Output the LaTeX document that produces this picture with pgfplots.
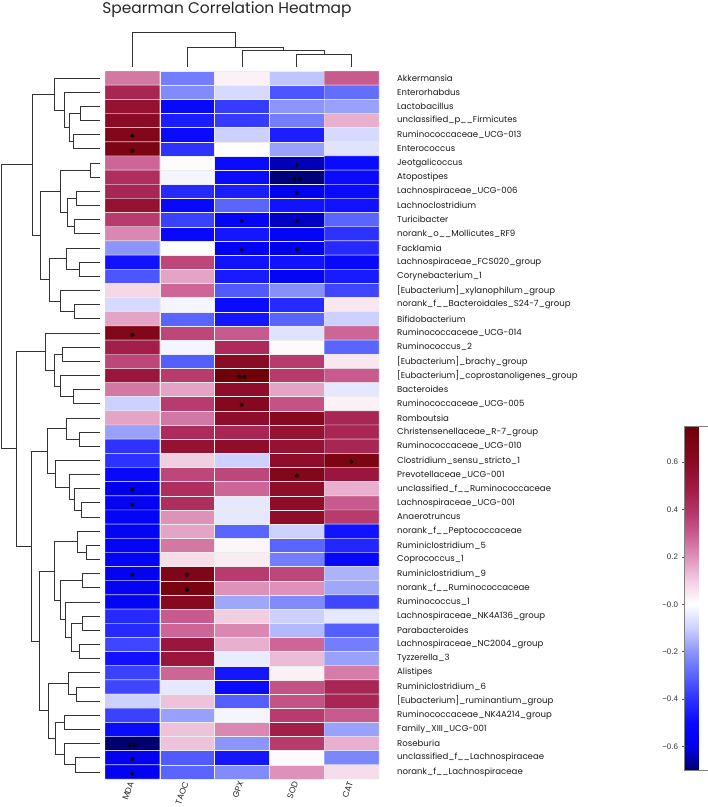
\documentclass[border=0pt]{standalone}
\usepackage{fontspec}
\setmainfont{Poppins}
\newfontfamily\arialf{Liberation Sans}
\newfontfamily\dejavu{DejaVu Sans}
\usepackage{pgfplots}
\pgfplotsset{compat=1.18}

\pgfplotsset{colormap={corr}{
 rgb255(0pt)=(0,0,110);
 rgb255(10pt)=(0,0,235);
 rgb255(20pt)=(10,10,255);
 rgb255(30pt)=(45,50,255);
 rgb255(40pt)=(90,100,255);
 rgb255(50pt)=(140,150,250);
 rgb255(60pt)=(205,210,255);
 rgb255(70pt)=(255,255,255);
 rgb255(80pt)=(242,205,225);
 rgb255(90pt)=(222,145,185);
 rgb255(100pt)=(200,90,140);
 rgb255(110pt)=(178,50,100);
 rgb255(120pt)=(158,25,65);
 rgb255(130pt)=(138,10,35);
 rgb255(145pt)=(110,0,5)
}}

\newcommand{\sa}{{\dejavu ✱}}
% left dendrogram link: child A (height, row), node height, child B (height, row)
\newcommand{\U}[5]{\addplot[black!80, line width=0.8bp, mark=none] coordinates {(#1,#2) (#3,#2) (#3,#5) (#4,#5)};}
% top dendrogram link: child A (column, height), node height, child B (column, height)
\newcommand{\V}[5]{\addplot[black!80, line width=0.8bp, mark=none] coordinates {(#1,#2) (#1,#3) (#4,#3) (#4,#5)};}

\begin{document}
\begin{tikzpicture}
\useasboundingbox (0,0) rectangle (708bp,-807bp);

\node[font=\fontsize{15.5}{17}\selectfont, text=black!85, anchor=base] at (227bp,-13bp) {Spearman Correlation Heatmap};

% ---------- heatmap ----------
\begin{axis}[
  at={(105bp,-71bp)}, anchor=north west,
  scale only axis, width=274bp, height=708bp,
  xmin=0.5, xmax=5.5, ymin=0.5, ymax=50.5, y dir=reverse,
  axis line style={draw=none},
  major tick length=0pt, tick style={draw=none},
  xtick={1,2,3,4,5}, xticklabels={MDA,TAOC,GPX,SOD,CAT},
  xticklabel pos=lower,
  xticklabel style={rotate=70, anchor=east, inner sep=3bp, font=\fontsize{8.5}{9}\selectfont, text=black!85},
  ytick={1,...,50}, yticklabel pos=right,
  yticklabel style={anchor=west, inner sep=0pt, xshift=18bp, font=\fontsize{8.6}{9}\selectfont, text=black!90},
  yticklabels={Akkermansia,Enterorhabdus,Lactobacillus,unclassified\_p\_\_Firmicutes,Ruminococcaceae\_UCG-013,Enterococcus,Jeotgalicoccus,Atopostipes,Lachnospiraceae\_UCG-006,Lachnoclostridium,Turicibacter,norank\_o\_\_Mollicutes\_RF9,Facklamia,Lachnospiraceae\_FCS020\_group,Corynebacterium\_1,{[Eubacterium]\_xylanophilum\_group},norank\_f\_\_Bacteroidales\_S24-7\_group,Bifidobacterium,Ruminococcaceae\_UCG-014,Ruminococcus\_2,{[Eubacterium]\_brachy\_group},{[Eubacterium]\_coprostanoligenes\_group},Bacteroides,Ruminococcaceae\_UCG-005,Romboutsia,Christensenellaceae\_R-7\_group,Ruminococcaceae\_UCG-010,Clostridium\_sensu\_stricto\_1,Prevotellaceae\_UCG-001,unclassified\_f\_\_Ruminococcaceae,Lachnospiraceae\_UCG-001,Anaerotruncus,norank\_f\_\_Peptococcaceae,Ruminiclostridium\_5,Coprococcus\_1,Ruminiclostridium\_9,norank\_f\_\_Ruminococcaceae,Ruminococcus\_1,Lachnospiraceae\_NK4A136\_group,Parabacteroides,Lachnospiraceae\_NC2004\_group,Tyzzerella\_3,Alistipes,Ruminiclostridium\_6,{[Eubacterium]\_ruminantium\_group},Ruminococcaceae\_NK4A214\_group,Family\_XIII\_UCG-001,Roseburia,unclassified\_f\_\_Lachnospiraceae,norank\_f\_\_Lachnospiraceae},
  colormap name=corr, point meta min=-0.70, point meta max=0.753,
  colorbar,
  colorbar style={
    at={(parent axis.north east)}, anchor=north west,
    xshift=297bp, yshift=-355bp,
    scale only axis, width=24bp, height=344bp,
    ytick={-0.6,-0.4,-0.2,0,0.2,0.4,0.6},
    yticklabels={−0.6,−0.4,−0.2,−0.0,0.2,0.4,0.6},
    ytick pos=left, yticklabel pos=left,
    tick align=outside, major tick length=3bp,
    yticklabel style={font=\arialf\fontsize{8}{9}\selectfont, text=black!80},
    axis line style={gray, line width=0.5bp},
    tick style={gray!70!black, line width=0.5bp}
  },
]
\addplot[matrix plot*, shader=faceted, faceted color=white!85!gray, line width=0.4bp, point meta=explicit, mesh/cols=5] coordinates {
(1,1)[0.25] (2,1)[-0.25] (3,1)[0.03] (4,1)[-0.12] (5,1)[0.30]
(1,2)[0.45] (2,2)[-0.22] (3,2)[-0.08] (4,2)[-0.33] (5,2)[-0.28]
(1,3)[0.55] (2,3)[-0.52] (3,3)[-0.38] (4,3)[-0.20] (5,3)[-0.18]
(1,4)[0.60] (2,4)[-0.45] (3,4)[-0.38] (4,4)[-0.25] (5,4)[0.15]
(1,5)[0.65] (2,5)[-0.50] (3,5)[-0.10] (4,5)[-0.45] (5,5)[-0.08]
(1,6)[0.68] (2,6)[-0.40] (3,6)[0.00] (4,6)[-0.18] (5,6)[-0.06]
(1,7)[0.28] (2,7)[0.01] (3,7)[-0.50] (4,7)[-0.64] (5,7)[-0.50]
(1,8)[0.42] (2,8)[-0.02] (3,8)[-0.50] (4,8)[-0.69] (5,8)[-0.50]
(1,9)[0.45] (2,9)[-0.42] (3,9)[-0.45] (4,9)[-0.58] (5,9)[-0.50]
(1,10)[0.55] (2,10)[-0.52] (3,10)[-0.30] (4,10)[-0.48] (5,10)[-0.48]
(1,11)[0.38] (2,11)[-0.37] (3,11)[-0.55] (4,11)[-0.63] (5,11)[-0.30]
(1,12)[0.22] (2,12)[-0.52] (3,12)[-0.47] (4,12)[-0.55] (5,12)[-0.40]
(1,13)[-0.20] (2,13)[0.00] (3,13)[-0.56] (4,13)[-0.60] (5,13)[-0.42]
(1,14)[-0.48] (2,14)[0.35] (3,14)[-0.48] (4,14)[-0.48] (5,14)[-0.52]
(1,15)[-0.33] (2,15)[0.17] (3,15)[-0.46] (4,15)[-0.55] (5,15)[-0.46]
(1,16)[0.08] (2,16)[0.28] (3,16)[-0.32] (4,16)[-0.21] (5,16)[-0.36]
(1,17)[-0.08] (2,17)[-0.02] (3,17)[-0.50] (4,17)[-0.42] (5,17)[0.05]
(1,18)[0.17] (2,18)[-0.30] (3,18)[-0.47] (4,18)[-0.30] (5,18)[-0.10]
(1,19)[0.65] (2,19)[0.35] (3,19)[0.30] (4,19)[-0.06] (5,19)[0.28]
(1,20)[0.48] (2,20)[-0.02] (3,20)[0.43] (4,20)[0.01] (5,20)[-0.30]
(1,21)[0.35] (2,21)[-0.31] (3,21)[0.60] (4,21)[0.38] (5,21)[0.05]
(1,22)[0.52] (2,22)[0.38] (3,22)[0.74] (4,22)[0.38] (5,22)[0.30]
(1,23)[0.25] (2,23)[0.17] (3,23)[0.58] (4,23)[0.17] (5,23)[-0.05]
(1,24)[-0.10] (2,24)[0.38] (3,24)[0.63] (4,24)[0.32] (5,24)[0.03]
(1,25)[0.17] (2,25)[0.25] (3,25)[0.58] (4,25)[0.62] (5,25)[0.45]
(1,26)[-0.18] (2,26)[0.43] (3,26)[0.45] (4,26)[0.55] (5,26)[0.45]
(1,27)[-0.40] (2,27)[0.55] (3,27)[0.58] (4,27)[0.55] (5,27)[0.45]
(1,28)[-0.40] (2,28)[0.10] (3,28)[-0.10] (4,28)[0.58] (5,28)[0.68]
(1,29)[-0.52] (2,29)[0.35] (3,29)[0.35] (4,29)[0.65] (5,29)[0.52]
(1,30)[-0.60] (2,30)[0.42] (3,30)[0.28] (4,30)[0.58] (5,30)[0.15]
(1,31)[-0.56] (2,31)[0.42] (3,31)[-0.05] (4,31)[0.58] (5,31)[0.30]
(1,32)[-0.55] (2,32)[0.20] (3,32)[-0.05] (4,32)[0.58] (5,32)[0.38]
(1,33)[-0.55] (2,33)[0.17] (3,33)[-0.30] (4,33)[-0.10] (5,33)[-0.48]
(1,34)[-0.55] (2,34)[0.25] (3,34)[0.02] (4,34)[-0.30] (5,34)[-0.43]
(1,35)[-0.55] (2,35)[0.07] (3,35)[0.04] (4,35)[-0.25] (5,35)[-0.53]
(1,36)[-0.57] (2,36)[0.66] (3,36)[0.38] (4,36)[0.35] (5,36)[-0.15]
(1,37)[-0.56] (2,37)[0.70] (3,37)[0.20] (4,37)[0.20] (5,37)[-0.17]
(1,38)[-0.55] (2,38)[0.62] (3,38)[-0.17] (4,38)[-0.22] (5,38)[-0.36]
(1,39)[-0.42] (2,39)[0.30] (3,39)[0.10] (4,39)[-0.10] (5,39)[-0.05]
(1,40)[-0.42] (2,40)[0.28] (3,40)[0.22] (4,40)[-0.14] (5,40)[-0.31]
(1,41)[-0.36] (2,41)[0.52] (3,41)[0.15] (4,41)[0.28] (5,41)[-0.25]
(1,42)[-0.48] (2,42)[0.52] (3,42)[-0.04] (4,42)[0.13] (5,42)[-0.18]
(1,43)[-0.37] (2,43)[0.28] (3,43)[-0.47] (4,43)[0.03] (5,43)[0.24]
(1,44)[-0.36] (2,44)[-0.05] (3,44)[-0.50] (4,44)[0.32] (5,44)[0.45]
(1,45)[-0.10] (2,45)[0.12] (3,45)[-0.31] (4,45)[0.32] (5,45)[0.45]
(1,46)[-0.37] (2,46)[-0.18] (3,46)[-0.02] (4,46)[0.38] (5,46)[0.30]
(1,47)[-0.50] (2,47)[0.12] (3,47)[0.22] (4,47)[0.48] (5,47)[-0.18]
(1,48)[-0.70] (2,48)[0.12] (3,48)[-0.20] (4,48)[0.38] (5,48)[0.15]
(1,49)[-0.57] (2,49)[-0.32] (3,49)[-0.47] (4,49)[0.01] (5,49)[-0.23]
(1,50)[-0.57] (2,50)[-0.30] (3,50)[-0.22] (4,50)[0.20] (5,50)[0.07]
};
\addplot[draw=none, mark=none, point meta=explicit symbolic, nodes near coords,
  every node near coord/.append style={anchor=center, inner sep=0pt, yshift=-2bp, font=\fontsize{6}{6}\selectfont, text=black}]
coordinates {
(1,5)[\sa] (1,6)[\sa] (4,7)[\sa] (4,8)[\sa\sa] (4,9)[\sa]
(3,11)[\sa] (4,11)[\sa] (3,13)[\sa] (4,13)[\sa] (1,19)[\sa]
(3,22)[\sa\sa] (3,24)[\sa] (5,28)[\sa] (4,29)[\sa] (1,30)[\sa]
(1,31)[\sa] (1,36)[\sa] (2,36)[\sa] (2,37)[\sa] (1,48)[\sa\sa]
(1,49)[\sa] (1,50)[\sa]
};
\end{axis}

% ---------- left dendrogram ----------
\begin{axis}[
  at={(0bp,-71bp)}, anchor=north west,
  scale only axis, width=100bp, height=708bp,
  xmin=0, xmax=100, ymin=0.5, ymax=50.5, y dir=reverse,
  hide axis, clip=false]
\U{100}{3}{80.7}{100}{4}
\U{100}{5}{73.3}{100}{6}
\U{80.7}{3.5}{69.3}{73.3}{5.5}
\U{100}{2}{64.3}{69.3}{4.5}
\U{100}{1}{54.3}{64.3}{3.25}
\U{100}{7}{90}{100}{8}
\U{100}{9}{76.7}{100}{10}
\U{100}{11}{74}{100}{12}
\U{76.7}{9.5}{67.7}{74}{11.5}
\U{90}{7.5}{60.3}{67.7}{10.5}
\U{100}{14}{79}{100}{15}
\U{100}{13}{66.7}{79}{14.5}
\U{100}{17}{74.3}{100}{18}
\U{100}{16}{60}{74.3}{17.5}
\U{66.7}{13.75}{49.3}{60}{16.75}
\U{60.3}{9}{40.7}{49.3}{15.25}
\U{54.3}{2.125}{32.3}{40.7}{12.125}
\U{100}{20}{62.3}{100}{21}
\U{100}{23}{73.3}{100}{24}
\U{100}{22}{60}{73.3}{23.5}
\U{62.3}{20.5}{54.3}{60}{22.75}
\U{100}{19}{45.7}{54.3}{21.625}
\U{100}{26}{79}{100}{27}
\U{100}{25}{66}{79}{26.5}
\U{100}{31}{81.7}{100}{32}
\U{100}{30}{74}{81.7}{31.5}
\U{100}{29}{69.3}{74}{30.75}
\U{100}{28}{55}{69.3}{29.875}
\U{66}{25.75}{47.3}{55}{28.9375}
\U{100}{34}{86}{100}{35}
\U{100}{33}{77.3}{86}{34.5}
\U{100}{36}{82.7}{100}{37}
\U{100}{39}{82.7}{100}{40}
\U{100}{41}{79}{100}{42}
\U{82.7}{39.5}{71.7}{79}{41.5}
\U{100}{38}{65.7}{71.7}{40.5}
\U{82.7}{36.5}{60.7}{65.7}{39.25}
\U{77.3}{33.75}{54}{60.7}{37.875}
\U{100}{44}{76.7}{100}{45}
\U{100}{43}{68.3}{76.7}{44.5}
\U{100}{46}{64.3}{100}{47}
\U{100}{49}{75.3}{100}{50}
\U{100}{48}{64}{75.3}{49.5}
\U{64.3}{46.5}{55.7}{64}{48.75}
\U{68.3}{43.75}{48.3}{55.7}{47.625}
\U{54}{35.8125}{39.3}{48.3}{45.6875}
\U{47.3}{27.34375}{31}{39.3}{40.75}
\U{45.7}{20.3125}{16}{31}{34.046875}
\U{32.3}{7.125}{1.7}{16}{27.1796875}
\end{axis}

% ---------- top dendrogram ----------
\begin{axis}[
  at={(105bp,-20bp)}, anchor=north west,
  scale only axis, width=274bp, height=50bp,
  xmin=0.5, xmax=5.5, ymin=20, ymax=70, y dir=reverse,
  hide axis, clip=false]
\V{4}{67}{54}{5}{67}
\V{3}{67}{50}{4.5}{54}
\V{2}{67}{47}{3.75}{50}
\V{1}{67}{32}{2.875}{47}
\end{axis}
\end{tikzpicture}
\end{document}
